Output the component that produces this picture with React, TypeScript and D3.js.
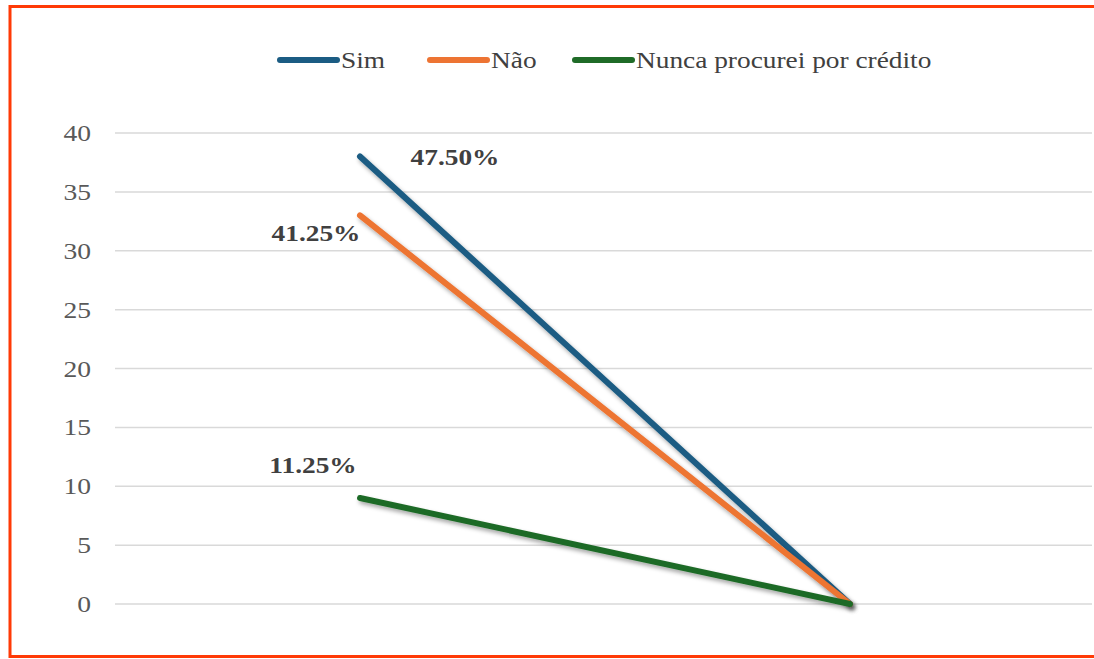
import React from "react";
import * as d3 from "d3";

const categories = ["A", "B"];
const sim = [38, 0];
const nao = [33, 0];
const nunca = [9, 0];
const labelsText = ["47.50%", "41.25%", "11.25%"];
const yTicks = [0, 5, 10, 15, 20, 25, 30, 35, 40];

const series = [
  { name: "Sim", values: sim, color: "#1B5C83", label: labelsText[0], dx: 95, dy: 0 },
  { name: "Não", values: nao, color: "#ED7433", label: labelsText[1], dx: -44, dy: 17 },
  { name: "Nunca procurei por crédito", values: nunca, color: "#1F6B28", label: labelsText[2], dx: -47, dy: -33 },
];

const W = 1094;
const H = 659;
const serif = { fontFamily: "Liberation Serif, Tinos, DejaVu Serif, serif" };
// the source picture is a bit stretched sideways
const stretch = 1.14;

export default function App() {
  const x = d3.scalePoint<string>().domain(categories).range([115, 1095]).padding(0.5);
  const y = d3.scaleLinear().domain([0, 40]).range([604, 133]);
  const line = d3
    .line<number>()
    .x((d, i) => x(categories[i]) as number)
    .y((d) => y(d));

  const legendX = [278, 428, 573];

  return (
    <div style={{ position: "absolute", left: 0, top: 0 }}>
      <svg width={W} height={H} style={{ display: "block", background: "#fff" }}>
        <defs>
          <filter id="sh" x="-10%" y="-10%" width="120%" height="120%">
            <feDropShadow dx="2" dy="3" stdDeviation="2" floodColor="#000" floodOpacity="0.35" />
          </filter>
        </defs>
        {/* border */}
        <rect x={10} y={6.5} width={W + 10} height={650} fill="none" stroke="#FF3A06" strokeWidth={3} />

        {/* grid + y labels */}
        {yTicks.map((t) => (
          <g key={t}>
            <line x1={115} x2={1092} y1={y(t)} y2={y(t)} stroke="#D9D9D9" strokeWidth={1.5} />
            <text
              transform={`translate(91,${y(t)}) scale(1.2,1)`}
              dy="0.35em"
              textAnchor="end"
              style={serif}
              fontSize={23}
              fill="#595959"
            >
              {t}
            </text>
          </g>
        ))}

        {/* lines */}
        {series.map((s) => (
          <path
            key={s.name}
            d={line(s.values) || ""}
            fill="none"
            stroke={s.color}
            strokeWidth={6}
            strokeLinecap="round"
            filter="url(#sh)"
          />
        ))}

        {/* data labels */}
        {series.map((s) => (
          <text
            key={s.name + "-l"}
            transform={`translate(${(x(categories[0]) as number) + s.dx},${y(s.values[0]) + s.dy}) scale(${stretch},1)`}
            dy="0.35em"
            textAnchor="middle"
            style={serif}
            fontWeight="bold"
            fontSize={24}
            fill="#404040"
          >
            {s.label}
          </text>
        ))}

        {/* legend */}
        {series.map((s, i) => (
          <g key={s.name + "-lg"} transform={`translate(${legendX[i]},60)`}>
            <line x1={2} x2={59} y1={0} y2={0} stroke={s.color} strokeWidth={6} strokeLinecap="round" />
            <text transform={`translate(63,0) scale(${stretch},1)`} dy="0.35em" style={serif} fontSize={24} fill="#404040">
              {s.name}
            </text>
          </g>
        ))}
      </svg>
    </div>
  );
}
